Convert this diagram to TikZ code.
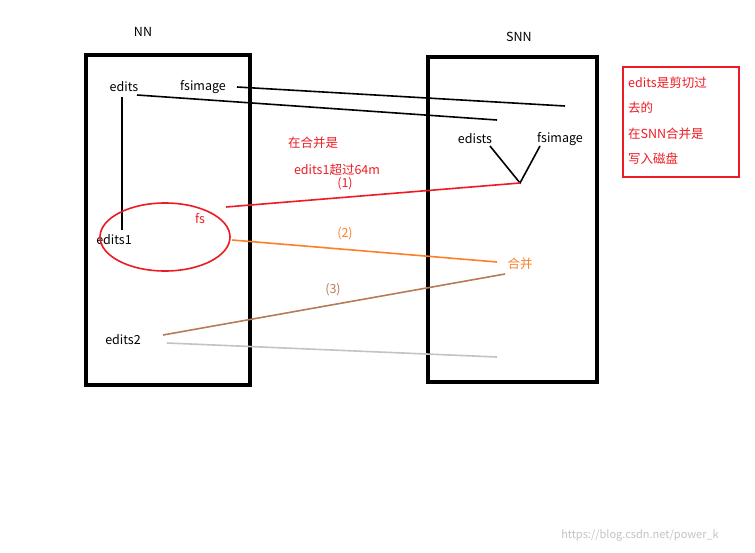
\documentclass[tikz,border=0pt]{standalone}
\usepackage{fontspec}
\setmainfont{Noto Sans CJK SC}
\begin{document}
\begin{tikzpicture}[x=1pt,y=-1pt,
  lbl/.style={font=\fontsize{12.5}{14}\selectfont,inner sep=0pt},
  box/.style={draw=black,line width=3.5pt},
  ln/.style={line width=1.6pt}]
\definecolor{myred}{RGB}{237,28,36}
\definecolor{myorange}{RGB}{255,127,39}
\definecolor{mybrown}{RGB}{185,122,87}
\definecolor{mygray}{RGB}{195,195,195}
\useasboundingbox[fill=white] (0,0) rectangle (755,552);
\node[box,minimum width=164pt,minimum height=330pt,inner sep=0pt] (nn) at (168,220) {};
\node[box,minimum width=169pt,minimum height=325pt,inner sep=0pt] (snn) at (512.5,219.5) {};
\node[draw=myred,line width=1.5pt,minimum width=116pt,minimum height=110pt,inner sep=0pt] (rb) at (681,122) {};
\node[lbl] (tnn) at (143,32) {NN};
\node[lbl] (tsnn) at (519,37) {SNN};
\node[lbl,text=myred,anchor=west] (r1) at (628,83) {edits是剪切过};
\node[lbl,text=myred,anchor=west] (r2) at (628,108) {去的};
\node[lbl,text=myred,anchor=west] (r3) at (628,134) {在SNN合并是};
\node[lbl,text=myred,anchor=west] (r4) at (628,159) {写入磁盘};
\node[lbl] (ed) at (124,87) {edits};
\node[lbl] (fsi) at (203,87) {fsimage};
\node[lbl] (ed1) at (114,240) {edits1};
\node[lbl] (ed2) at (123,340) {edits2};
\node[lbl] (eds) at (475,139) {edists};
\node[lbl] (fsi2) at (560,139) {fsimage};
\node[lbl,text=myred] (t1) at (313,143) {在合并是};
\node[lbl,text=myred] (t2) at (337,170) {edits1超过64m};
\node[lbl,text=myred] (n1) at (345,184) {(1)};
\node[lbl,text=myred] (fs) at (200,219) {fs};
\node[lbl,text=myorange] (n2) at (345,234) {(2)};
\node[lbl,text=myorange] (hb) at (520,264) {合并};
\node[lbl,text=mybrown] (n3) at (333,290) {(3)};
\node[lbl,text=mygray,font=\fontsize{11}{13}\selectfont] (wm) at (640,535) {https://blog.csdn.net/power\_k};
\coordinate (v) at (520,183);
\coordinate (a1) at (565,106);
\coordinate (a2) at (497,120);
\coordinate (o2) at (497,262);
\coordinate (b2) at (505,274);
\coordinate (g2) at (497,357);
\draw[ln] (122,97) -- (122,230);
\draw[ln] (237,87) -- (a1);
\draw[ln] (137,95) -- (a2);
\draw[ln] (490,146) -- (v) -- (540,146);
\draw[ln,myred] (226,207) -- (v);
\draw[ln,myred] (165,237) ellipse [x radius=65, y radius=34];
\draw[ln,myorange] (232,240) -- (o2);
\draw[ln,mybrown] (163,335) -- (b2);
\draw[ln,mygray] (167,343) -- (g2);
\end{tikzpicture}
\end{document}
